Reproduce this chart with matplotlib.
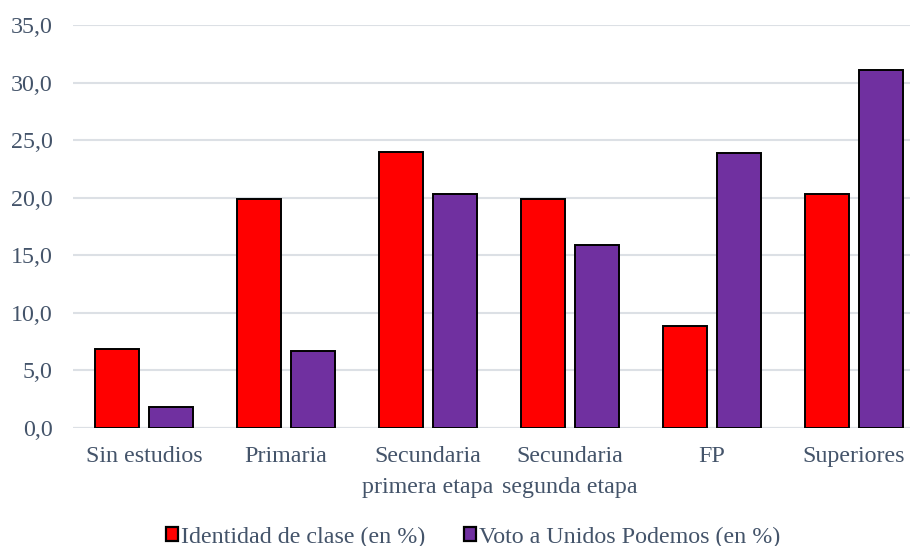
import matplotlib
matplotlib.use("Agg")
import matplotlib.pyplot as plt
import numpy as np
from matplotlib.patches import Patch

categories = ["Sin estudios", "Primaria", "Secundaria\nprimera etapa",
              "Secundaria\nsegunda etapa", "FP", "Superiores"]
identidad = [6.9, 19.9, 24.0, 19.9, 8.9, 20.3]
voto = [1.8, 6.7, 20.3, 15.9, 23.9, 31.1]
series_names = ["Identidad de clase (en %)", "Voto a Unidos Podemos (en %)"]
yticks = [0, 5, 10, 15, 20, 25, 30, 35]

plt.rcParams['font.family'] = ['Liberation Serif', 'DejaVu Serif']
txt = '#44546A'
grid = '#DCE0E5'
red = '#FF0000'
purple = '#7030A0'
fs = 17.3

W, H = 910, 546
fig = plt.figure(figsize=(W/100, H/100), dpi=100)
left_px, right_px, top_px, bot_px = 73.3, 910, 25, 428
ax = fig.add_axes([left_px/W, 1-bot_px/H, (right_px-left_px)/W, (bot_px-top_px)/H])

cat_px = 141.9
x = np.arange(len(categories))
bw = 0.312
off = 0.191
ax.bar(x-off, identidad, bw, color=red, edgecolor='black', linewidth=1.4, zorder=3)
ax.bar(x+off, voto, bw, color=purple, edgecolor='black', linewidth=1.4, zorder=3)

ax.set_xlim(-0.5, -0.5 + (right_px-left_px)/cat_px)
ax.set_ylim(0, 35)
ax.set_yticks(yticks)
ax.set_yticklabels([f"{v:.1f}".replace('.', ',') for v in yticks])
ax.set_xticks(x)
ax.set_xticklabels(categories, linespacing=1.6)
for s in ax.spines.values():
    s.set_visible(False)
ax.yaxis.grid(True, color=grid, linewidth=1.5, zorder=0)
ax.set_axisbelow(True)
ax.tick_params(axis='both', length=0, labelsize=fs, colors=txt)
ax.tick_params(axis='y', pad=15)
ax.tick_params(axis='x', pad=13)
ax.axhline(0, color=grid, linewidth=1.5, zorder=1)

handles = [Patch(facecolor=red, edgecolor='black', linewidth=1.6),
           Patch(facecolor=purple, edgecolor='black', linewidth=1.6)]
leg = fig.legend(handles, series_names, loc='center', bbox_to_anchor=(473/W, 1-537/H),
                 ncol=2, frameon=False, fontsize=fs, handlelength=0.5, handleheight=0.5,
                 handletextpad=0.12, columnspacing=1.6, borderaxespad=0)
for t in leg.get_texts():
    t.set_color(txt)

fig.savefig("out.png", dpi=100)
